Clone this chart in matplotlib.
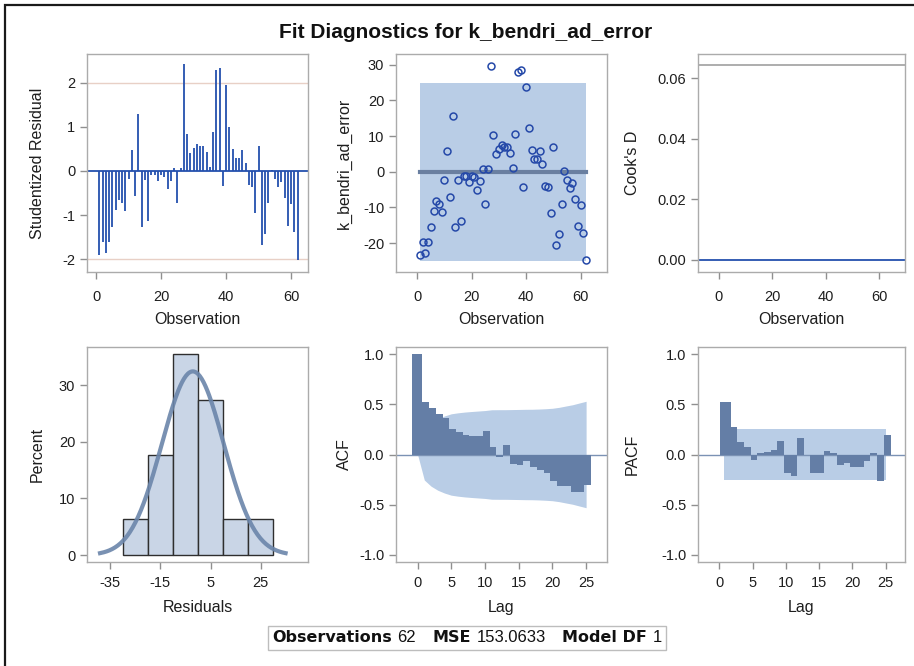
import numpy as np
import matplotlib
matplotlib.use("Agg")
import matplotlib.pyplot as plt
from matplotlib.offsetbox import TextArea, HPacker, AnchoredOffsetbox
from matplotlib.patches import Rectangle

plt.rcParams['font.family'] = ['Liberation Sans', 'DejaVu Sans']
plt.rcParams['axes.unicode_minus'] = False

# residual values of k_bendri_ad_error, one per observation
resid = np.array([
    -23.4, -19.8, -22.9, -19.8, -15.5, -10.9, -8.2, -9.0, -11.2, -2.3,
    5.7, -7.0, 15.7, -15.5, -2.4, -13.9, -1.1, -1.1, -2.8, -1.1,
    -1.6, -5.1, -2.7, 0.7, -9.0, 0.7, 29.7, 10.3, 4.9, 6.3,
    7.5, 6.8, 6.8, 5.3, 1.0, 10.7, 28.0, 28.5, -4.3, 23.8,
    12.3, 6.1, 3.7, 3.7, 5.7, 2.2, -3.9, -4.4, -11.7, 6.8,
    -20.6, -17.5, -9.0, 0.3, -2.3, -4.5, -3.1, -7.5, -15.2, -9.3,
    -17.1, -24.8])
obs = np.arange(1, len(resid) + 1)
n_obs = len(resid)
mse = 153.0633
model_df = 1
t_crit = 2.0
predicted = np.zeros(n_obs)

acf_lags = np.arange(0, 26)
acf_vals = [1.00, 0.52, 0.46, 0.40, 0.36, 0.25, 0.22, 0.19, 0.18, 0.18,
            0.23, 0.07, -0.02, 0.09, -0.09, -0.10, -0.06, -0.12, -0.15, -0.18,
            -0.26, -0.31, -0.31, -0.37, -0.37, -0.30]
pacf_lags = np.arange(1, 26)
pacf_vals = [0.52, 0.27, 0.12, 0.07, -0.05, 0.01, 0.02, 0.04, 0.13, -0.18,
             -0.21, 0.16, 0.00, -0.18, -0.18, 0.03, 0.01, -0.10, -0.08, -0.12,
             -0.12, -0.06, 0.01, -0.26, 0.19]

hist_bins = np.arange(-30, 31, 10)

W, H = 914, 666
fig = plt.figure(figsize=(W / 100, H / 100), dpi=100)

DARK = '#647ea6'
LIGHT = '#b9cde6'
NEEDLE = '#2450ae'
TICK_KW = dict(direction='out', length=5, width=1, color='#8f8f8f',
               labelsize=10.5, labelcolor='#1e1e1e')


def panel(x0, y0, x1, y1):
    ax = fig.add_axes([x0 / W, 1 - y1 / H, (x1 - x0) / W, (y1 - y0) / H])
    for s in ax.spines.values():
        s.set_color('#ababab')
        s.set_linewidth(1)
    ax.tick_params(**TICK_KW)
    return ax


def labels(ax, xl, yl, xpad, ycoord, xcoord):
    ax.set_xlabel(xl, fontsize=11.5, color='#1e1e1e')
    ax.set_ylabel(yl, fontsize=11.5, color='#1e1e1e')
    ax.xaxis.set_label_coords(0.5, xcoord)
    ax.yaxis.set_label_coords(ycoord, 0.5)
    ax.tick_params(axis='x', pad=xpad)


stud = (resid - predicted) / np.sqrt(mse * (1 - 1 / n_obs))

# studentized residual needles
ax1 = panel(87, 54, 308, 272)
ax1.axhline(2, color='#e8d0c6', lw=1)
ax1.axhline(-2, color='#e8d0c6', lw=1)
ax1.axhline(0, color=NEEDLE, lw=1.3)
ax1.vlines(obs, 0, stud, color=NEEDLE, lw=1.3)
ax1.set_xlim(-2.8, 65.2)
ax1.set_ylim(-2.29, 2.65)
ax1.set_xticks([0, 20, 40, 60])
ax1.set_yticks([-2, -1, 0, 1, 2])
labels(ax1, 'Observation', 'Studentized Residual', 8, -0.19, -0.185)

# observed values with prediction band
ax2 = panel(396, 54, 607, 272)
lim = t_crit * np.sqrt(mse * (1 + 1 / n_obs))
ax2.fill_between(obs, predicted - lim, predicted + lim, color=LIGHT, lw=0)
ax2.plot(obs, predicted, color='#6a7fa0', lw=3)
ax2.plot(obs, resid, 'o', mfc='none', mec='#2448a8', ms=5, mew=1.1)
ax2.set_xlim(-7.8, 69.7)
ax2.set_ylim(-28.1, 33.0)
ax2.set_xticks([0, 20, 40, 60])
ax2.set_yticks([-20, -10, 0, 10, 20, 30])
labels(ax2, 'Observation', 'k_bendri_ad_error', 8, -0.21, -0.185)

# Cook's D
ax3 = panel(698, 54, 905, 272)
ax3.axhline(4 / n_obs, color='#a0a0a0', lw=1.2)
ax3.axhline(0, color=NEEDLE, lw=1.3)
ax3.set_xlim(-7.8, 69.7)
ax3.set_ylim(-0.004, 0.068)
ax3.set_xticks([0, 20, 40, 60])
ax3.set_yticks([0, 0.02, 0.04, 0.06])
ax3.set_yticklabels(['0.00', '0.02', '0.04', '0.06'])
labels(ax3, 'Observation', "Cook's D", 8, -0.28, -0.185)

# residual histogram with normal curve
ax4 = panel(87, 347, 308, 562)
ax4.hist(resid, bins=hist_bins, weights=np.full(n_obs, 100 / n_obs),
         color='#c9d5e6', edgecolor='#2e2e2e', lw=1)
mu, sd = resid.mean(), resid.std(ddof=1)
xs = np.linspace(mu - 3 * sd, mu + 3 * sd, 200)
dens = np.exp(-0.5 * ((xs - mu) / sd) ** 2) / (sd * np.sqrt(2 * np.pi))
ax4.plot(xs, dens * 10 * 100, color='#6b85aa', lw=3, alpha=0.9)
ax4.set_xlim(-44.2, 43.8)
ax4.set_ylim(-1.2, 36.7)
ax4.set_xticks([-35, -15, 5, 25])
ax4.set_yticks([0, 10, 20, 30])
labels(ax4, 'Residuals', 'Percent', 5, -0.19, -0.175)


def step_edges(lags):
    lags = np.asarray(lags, dtype=float)
    return np.concatenate([[lags[0] - 0.9], lags[:-1] + 0.7, [lags[-1] + 0.8]])


# autocorrelation of residuals
ax5 = panel(396, 347, 607, 562)
r = np.asarray(acf_vals)
acf_lim = np.zeros(len(r))
acf_lim[1:] = 2 * np.sqrt((1 + 2 * np.concatenate([[0], np.cumsum(r[1:-1] ** 2)])) / n_obs)
ax5.fill_between(acf_lags, -acf_lim, acf_lim, color=LIGHT, lw=0, zorder=1)
ax5.axhline(0, color='#7b92b4', lw=1, zorder=2)
ax5.stairs(acf_vals, step_edges(acf_lags), baseline=0, fill=True, color=DARK, zorder=3)
ax5.set_xlim(-3.2, 28.1)
ax5.set_ylim(-1.07, 1.07)
ax5.set_xticks([0, 5, 10, 15, 20, 25])
ax5.set_yticks([-1.0, -0.5, 0.0, 0.5, 1.0])
ax5.set_yticklabels(['-1.0', '-0.5', '0.0', '0.5', '1.0'])
labels(ax5, 'Lag', 'ACF', 5, -0.21, -0.175)

# partial autocorrelation of residuals
ax6 = panel(698, 347, 905, 562)
pacf_lim = 2 / np.sqrt(n_obs)
ax6.fill_between([pacf_lags[0] - 0.25, pacf_lags[-1]], -pacf_lim, pacf_lim,
                 color=LIGHT, lw=0, zorder=1)
ax6.axhline(0, color='#7b92b4', lw=1, zorder=2)
ax6.stairs(pacf_vals, step_edges(pacf_lags), baseline=0, fill=True, color=DARK, zorder=3)
ax6.set_xlim(-3.2, 27.9)
ax6.set_ylim(-1.07, 1.07)
ax6.set_xticks([0, 5, 10, 15, 20, 25])
ax6.set_yticks([-1.0, -0.5, 0.0, 0.5, 1.0])
ax6.set_yticklabels(['-1.0', '-0.5', '0.0', '0.5', '1.0'])
labels(ax6, 'Lag', 'PACF', 5, -0.28, -0.175)

fig.text(466 / W, 1 - 33 / H, 'Fit Diagnostics for k_bendri_ad_error',
         ha='center', va='center', fontsize=15, fontweight='bold', color='#111111')

# summary box below the panels
bold = dict(fontsize=11.5, fontweight='bold', color='#111111', family='DejaVu Sans')
plain = dict(fontsize=12, color='#111111')
parts = [TextArea('Observations', textprops=bold), TextArea(f'{n_obs}', textprops=plain),
         TextArea('MSE', textprops=bold), TextArea(f'{mse:.4f}', textprops=plain),
         TextArea('Model DF', textprops=bold), TextArea(f'{model_df}', textprops=plain)]
row = HPacker(children=[HPacker(children=parts[i:i + 2], sep=4, pad=0) for i in (0, 2, 4)],
              sep=12, pad=0, align='baseline')
box = AnchoredOffsetbox(loc='center', child=row, pad=0.3, borderpad=0, frameon=True,
                        bbox_to_anchor=(467 / W, 1 - 638 / H),
                        bbox_transform=fig.transFigure)
box.patch.set_edgecolor('#bdbdbd')
box.patch.set_linewidth(1)
ax4.add_artist(box)

fig.add_artist(Rectangle((5 / W, -0.05), 1.1, 1 - 5 / H + 0.05, transform=fig.transFigure,
                         fill=False, edgecolor='#1a1a1a', lw=1.6))

fig.savefig('out.png', dpi=100)
